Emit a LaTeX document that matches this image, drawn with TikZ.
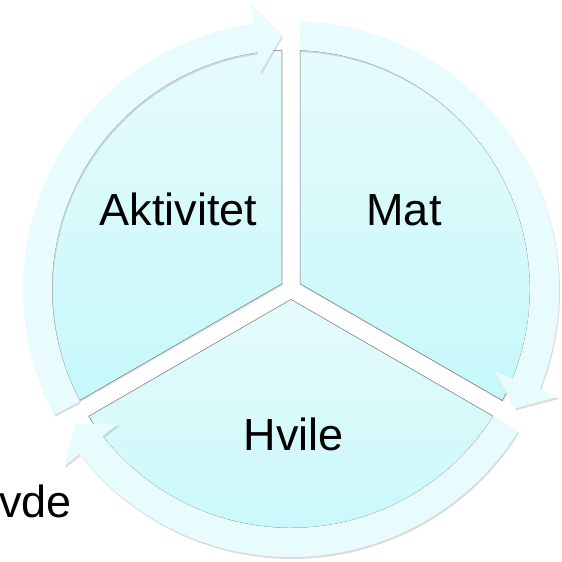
\documentclass[tikz,border=0pt]{standalone}
\usepackage{fontspec}
\setmainfont{Liberation Sans}
\usepackage{tikz}
\usetikzlibrary{shadows}
\usepackage{xcolor}
\definecolor{ringfill}{RGB}{232,252,253}
\definecolor{pietop}{RGB}{230,251,252}
\definecolor{piebottom}{RGB}{198,248,250}
\tikzset{
	sector/.style={draw=black!55, line width=0.5pt,
		top color=pietop, bottom color=piebottom,
		drop shadow={shadow xshift=1pt, shadow yshift=-1.5pt,
			opacity=0.2, fill=black!50}},
	cyclearrow/.style={fill=ringfill, draw=none,
		drop shadow={shadow xshift=1pt, shadow yshift=-2pt,
			opacity=0.3, fill=black!45}},
	lbl/.style={font=\fontsize{45}{52}\selectfont, inner sep=0pt}
}

\begin{document}
\begin{tikzpicture}[x=1pt, y=1pt]
			\useasboundingbox (0,0) rectangle (562,562);
			
			\begin{scope}[shift={(291,273)}]
			
			%% pie sectors
			\path[sector] (150:10.4) -- (92.17:239)
			arc[start angle=92.17, end angle=207.83, radius=239] -- cycle;
			\path[sector] (30:10.4) -- (-27.83:239)
			arc[start angle=-27.83, end angle=87.83, radius=239] -- cycle;
			\path[sector] (270:10.4) -- (212.17:239)
			arc[start angle=212.17, end angle=327.83, radius=239] -- cycle;
			
			%% ring arrows (clockwise)
			\path[cyclearrow] (208:268)
			arc[start angle=208, end angle=98, radius=268]
			-- (98:288) -- (92:254) -- (98:219) -- (98:239)
			arc[start angle=98, end angle=208, radius=239] -- cycle;
			\path[cyclearrow] (88:268)
			arc[start angle=88, end angle=-22, radius=268]
			-- (-22:288) -- (-28:254) -- (-22:219) -- (-22:239)
			arc[start angle=-22, end angle=88, radius=239] -- cycle;
			\path[cyclearrow] (-32:268)
			arc[start angle=-32, end angle=-142, radius=268]
			-- (-142:288) -- (-148:254) -- (-142:219) -- (-142:239)
			arc[start angle=-142, end angle=-32, radius=239] -- cycle;
			
			%% labels
			\node[lbl, anchor=base] (akt) at (-112.5,63) {Aktivitet};
			\node[lbl, anchor=base] (mat) at (113,63) {Mat};
			\node[lbl, anchor=base] (hvile) at (3,-162) {Hvile};
			\node[lbl, anchor=base east] (vde) at (-219,-229) {vde};
			
			\end{scope}
			
		\end{tikzpicture}
\end{document}
